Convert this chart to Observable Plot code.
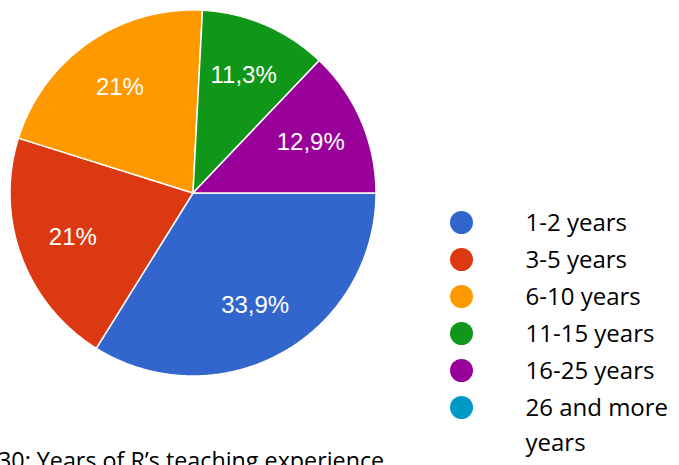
<!DOCTYPE html>
<html><head><meta charset="utf-8">
<script src="https://cdn.jsdelivr.net/npm/d3@7"></script>
<script src="https://cdn.jsdelivr.net/npm/@observablehq/plot@0.6"></script>
<style>
body{margin:0;background:#fff;width:679px;height:465px;overflow:hidden;position:relative;}
#pie{position:absolute;left:0;top:0}
#legend{position:absolute;left:430px;top:190px}
#caption{position:absolute;left:-2px;top:449px;font-family:"Open Sans";font-size:23.3px;line-height:23px;color:#000;white-space:nowrap}
</style></head><body>
<div id="pie"></div><div id="legend"></div><div id="caption"></div>
<script>
const categories = ["1-2 years","3-5 years","6-10 years","11-15 years","16-25 years","26 and more years"];
const legendLabels = ["1-2 years","3-5 years","6-10 years","11-15 years","16-25 years","26 and more\nyears"];
const values = [33.9, 21, 21, 11.3, 12.9, 0];
const sliceLabels = ["33,9%","21%","21%","11,3%","12,9%",""];
const colors = ["#3366cc","#dc3912","#ff9900","#109618","#990099","#0099c6"];
const captionText = "30: Years of R’s teaching experience";
const startAngle = 90; // degrees clockwise from 12 o'clock

const total = d3.sum(values);
let acc = startAngle;
const slices = [];
categories.forEach((c, i) => {
  const span = values[i] / total * 360;
  const a0 = acc, a1 = acc + span;
  acc = a1;
  if (values[i] <= 0) return;
  const ring = [[0, 0]];
  const n = Math.max(2, Math.ceil(span * 2));
  for (let k = 0; k <= n; k++) {
    const a = (a0 + span * k / n) * Math.PI / 180;
    ring.push([Math.sin(a), -Math.cos(a)]);
  }
  ring.push([0, 0]);
  const mid = (a0 + a1) / 2 * Math.PI / 180;
  slices.push({
    type: "Feature",
    properties: {category: c, label: sliceLabels[i], lx: 0.7 * Math.sin(mid), ly: -0.7 * Math.cos(mid)},
    geometry: {type: "Polygon", coordinates: [ring]}
  });
});

const domain = {type: "Polygon", coordinates: [[[-1,-1],[1,-1],[1,1],[-1,1],[-1,-1]]]};

const pie = Plot.plot({
  width: 400, height: 400,
  marginLeft: 9.5, marginTop: 9.5, marginRight: 24.5, marginBottom: 24.5,
  projection: {type: "identity", domain},
  color: {domain: categories, range: colors},
  marks: [
    Plot.geo(slices, {fill: d => d.properties.category, stroke: "white", strokeWidth: 1.5}),
    Plot.text(slices, {
      x: d => d.properties.lx, y: d => d.properties.ly, text: d => d.properties.label,
      fill: "white", fontSize: 24, fontFamily: "Liberation Sans, Arial, sans-serif",
      textAnchor: "middle", lineAnchor: "middle"
    })
  ]
});
document.getElementById("pie").appendChild(pie);

const legend = Plot.plot({
  width: 249, height: 275, margin: 0,
  y: {type: "point", domain: categories, range: [30, 218], padding: 0, axis: null},
  color: {domain: categories, range: colors},
  marks: [
    Plot.dot(categories, {y: d => d, frameAnchor: "left", dx: 31, r: 11.5, fill: d => d}),
    Plot.text(categories, {
      y: d => d, frameAnchor: "left", dx: 95, dy: -16,
      text: (d, i) => legendLabels[i], textAnchor: "start", lineAnchor: "top", lineHeight: 1.46,
      fontSize: 24, fontFamily: "Open Sans", fill: "black"
    })
  ]
});
document.getElementById("legend").appendChild(legend);

document.getElementById("caption").textContent = captionText;
</script>
</body></html>
